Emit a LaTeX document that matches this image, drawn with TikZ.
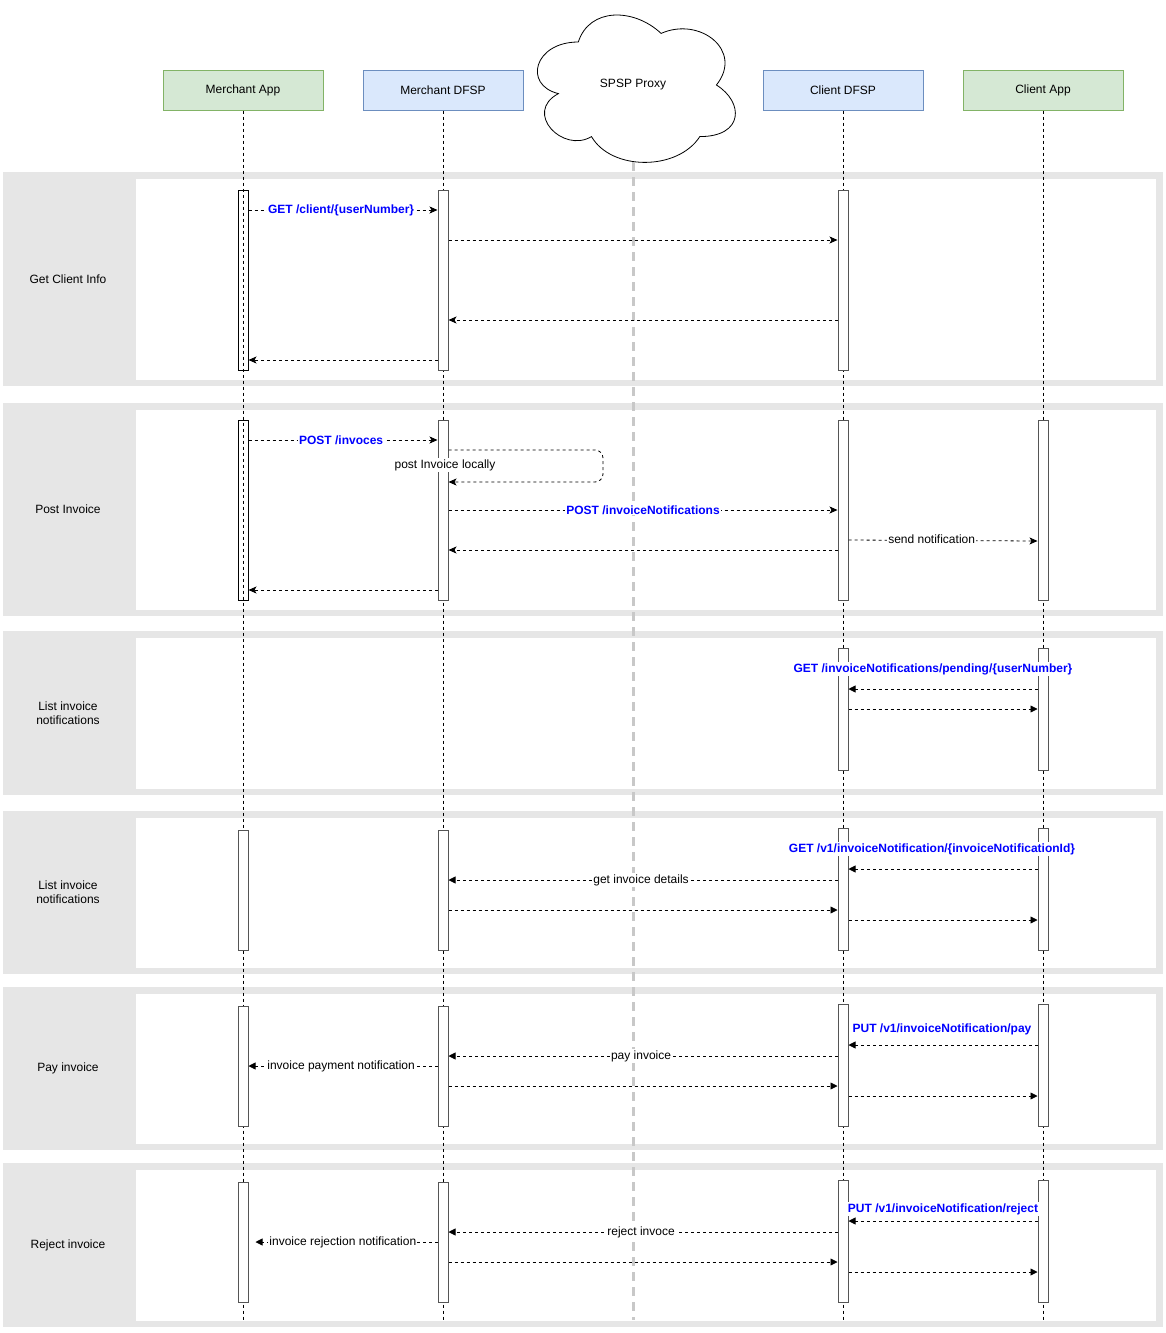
\documentclass[tikz,border=0pt]{standalone}
\usepackage{fontspec}
\setmainfont{Liberation Sans}
\usepackage{tikz}
\usetikzlibrary{arrows.meta,calc}

\definecolor{appfill}{HTML}{D5E8D4}
\definecolor{appline}{HTML}{82B366}
\definecolor{dfspfill}{HTML}{DAE8FC}
\definecolor{dfspline}{HTML}{6C8EBF}
\definecolor{bandgray}{HTML}{E6E6E6}
\definecolor{proxygray}{HTML}{C8C8C8}
\definecolor{actline}{HTML}{555555}
\definecolor{apiblue}{HTML}{0000FF}

\begin{document}
\begin{tikzpicture}[x=1pt, y=-1pt, font=\fontsize{12}{14}\selectfont,
    part/.style={draw, line width=1pt, minimum width=160, minimum height=40},
    app/.style={part, fill=appfill, draw=appline},
    dfsp/.style={part, fill=dfspfill, draw=dfspline},
    life/.style={line width=0.8pt, dash pattern=on 3pt off 3pt},
    proxyline/.style={line width=3pt, draw=proxygray, dash pattern=on 9pt off 6pt},
    act/.style={draw=actline, fill=white, line width=1pt, minimum width=10, inner sep=0pt},
    msg/.style={line width=0.8pt, dash pattern=on 3pt off 3pt, -{Stealth[length=8pt,width=7pt,inset=2pt]}},
    blk/.style={msg, -{Triangle[length=7pt,width=7pt]}},
    lbl/.style={fill=white, inner sep=1pt},
    api/.style={lbl, text=apiblue, font=\fontsize{12}{14}\selectfont\bfseries}]
    \useasboundingbox (0,0) rectangle (1166,1333);

    % swimlanes
    \foreach \top/\bot/\txt [count=\i] in {172/386/{Get Client Info}, 403/616/{Post Invoice},
        631/795/{List invoice\\notifications}, 811/974/{List invoice\\notifications},
        987/1150/{Pay invoice}, 1163/1327/{Reject invoice}} {
      \fill[bandgray] (3,\top) rectangle (1163,\bot);
      \fill[white] (136,\top+7) rectangle (1156,\bot-6);
      \node[align=center] (band\i) at (68,{(\top+\bot)/2}) {\txt};
    }

    % participants
    \node[app] (mapp) at (243,90) {Merchant App};
    \node[dfsp] (mdfsp) at (443,90) {Merchant DFSP};
    \node[dfsp] (cdfsp) at (843,90) {Client DFSP};
    \node[app] (capp) at (1043,90) {Client App};

    \draw[fill=white, line width=0.8pt] (578.3,42) .. controls (534,42) and (523,85) .. (558.4,93.6)
      .. controls (523,112.5) and (562.8,153.8) .. (591.5,136.6)
      .. controls (611.4,171) and (677.7,171) .. (699.8,136.6)
      .. controls (744,136.6) and (744,102.2) .. (716.4,85)
      .. controls (744,50.6) and (699.8,16.2) .. (661.1,33.4)
      .. controls (633.5,7.6) and (589.3,7.6) .. (578.3,42) -- cycle;
    \node (proxy) at (633,85) {SPSP Proxy};
    \coordinate (proxybot) at (633,162);

    % lifelines
    \draw[proxyline] (proxybot) -- (proxybot |- 0,1320);
    \foreach \p in {mapp,mdfsp,cdfsp,capp}
      \draw[life] (\p.south) -- (\p.south |- 0,1320);

    % activations
    \node[act, minimum height=180, fill=none, draw=black] (ma1) at (243,280) {};
    \node[act, minimum height=180] (md1) at (443,280) {};
    \node[act, minimum height=180] (cd1) at (843,280) {};

    \node[act, minimum height=180, fill=none, draw=black] (ma2) at (243,510) {};
    \node[act, minimum height=180] (md2) at (443,510) {};
    \node[act, minimum height=180] (cd2) at (843,510) {};
    \node[act, minimum height=180] (ca2) at (1043,510) {};

    \node[act, minimum height=122] (cd3) at (843,709) {};
    \node[act, minimum height=122] (ca3) at (1043,709) {};

    \node[act, minimum height=120] (ma4) at (243,890) {};
    \node[act, minimum height=120] (md4) at (443,890) {};
    \node[act, minimum height=122] (cd4) at (843,889) {};
    \node[act, minimum height=122] (ca4) at (1043,889) {};

    \node[act, minimum height=120] (ma5) at (243,1066) {};
    \node[act, minimum height=120] (md5) at (443,1066) {};
    \node[act, minimum height=122] (cd5) at (843,1065) {};
    \node[act, minimum height=122] (ca5) at (1043,1065) {};

    \node[act, minimum height=120] (ma6) at (243,1242) {};
    \node[act, minimum height=120] (md6) at (443,1242) {};
    \node[act, minimum height=122] (cd6) at (843,1241) {};
    \node[act, minimum height=122] (ca6) at (1043,1241) {};

    % get client info
    \draw[msg] (ma1.east |- 0,210) -- node[api, pos=0.49] {GET /client/\{userNumber\}} (md1.west |- 0,210);
    \draw[msg] (md1.east |- 0,240) -- (cd1.west |- 0,240);
    \draw[msg] (cd1.west |- 0,320) -- (md1.east |- 0,320);
    \draw[msg] (md1.west |- 0,360) -- (ma1.east |- 0,360);

    % post invoice
    \draw[msg] (ma2.east |- 0,440) -- node[api, pos=0.49] {POST /invoces} (md2.west |- 0,440);
    \draw[msg, rounded corners=8pt] (md2.east |- 0,450) -- (603,450) -- (603,482) -- (md2.east |- 0,482);
    \node[lbl] (loopnote) at (445,465) {post Invoice locally};
    \draw[msg] (md2.east |- 0,510) -- node[api, pos=0.5] {POST /invoiceNotifications} (cd2.west |- 0,510);
    \draw[msg] (cd2.east |- 0,540) -- node[lbl, pos=0.44, yshift=1pt] {send notification} (ca2.west |- 0,541);
    \draw[msg] (cd2.west |- 0,550) -- (md2.east |- 0,550);
    \draw[msg] (md2.west |- 0,590) -- (ma2.east |- 0,590);

    % list invoice notifications
    \draw[blk] (ca3.west |- 0,689) -- node[api, midway, xshift=-10pt, yshift=20pt] {GET /invoiceNotifications/pending/\{userNumber\}} (cd3.east |- 0,689);
    \draw[blk] (cd3.east |- 0,709) -- (ca3.west |- 0,709);

    % invoice notification details
    \draw[blk] (ca4.west |- 0,869) -- node[api, midway, xshift=-11pt, yshift=20pt] {GET /v1/invoiceNotification/\{invoiceNotificationId\}} (cd4.east |- 0,869);
    \draw[blk] (cd4.west |- 0,880) -- node[lbl, pos=0.505] {get invoice details} (md4.east |- 0,880);
    \draw[blk] (md4.east |- 0,910) -- (cd4.west |- 0,910);
    \draw[blk] (cd4.east |- 0,920) -- (ca4.west |- 0,920);

    % pay invoice
    \draw[blk] (ca5.west |- 0,1045) -- node[api, midway, xshift=-1pt, yshift=16pt] {PUT /v1/invoiceNotification/pay} (cd5.east |- 0,1045);
    \draw[blk] (cd5.west |- 0,1056) -- node[lbl, pos=0.505] {pay invoice} (md5.east |- 0,1056);
    \draw[blk] (md5.west |- 0,1066) -- node[lbl, pos=0.51] {invoice payment notification} (ma5.east |- 0,1066);
    \draw[blk] (md5.east |- 0,1086) -- (cd5.west |- 0,1086);
    \draw[blk] (cd5.east |- 0,1096) -- (ca5.west |- 0,1096);

    % reject invoice
    \draw[blk] (ca6.west |- 0,1221) -- node[api, midway, yshift=12pt] {PUT /v1/invoiceNotification/reject} (cd6.east |- 0,1221);
    \draw[blk] (cd6.west |- 0,1232) -- node[lbl, pos=0.505] {reject invoce} (md6.east |- 0,1232);
    \draw[blk] (md6.west |- 0,1242) -- node[lbl, pos=0.52] {invoice rejection notification} ($(ma6.east |- 0,1242)+(7,0)$);
    \draw[blk] (md6.east |- 0,1262) -- (cd6.west |- 0,1262);
    \draw[blk] (cd6.east |- 0,1272) -- (ca6.west |- 0,1272);
  \end{tikzpicture}
\end{document}
